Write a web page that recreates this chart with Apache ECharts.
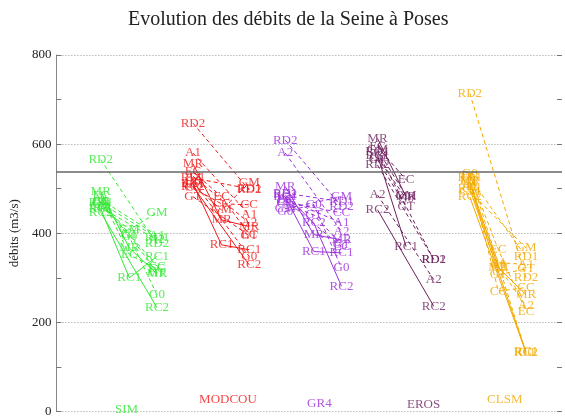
<!DOCTYPE html>
<html>
<head>
<meta charset="utf-8">
<script src="https://cdn.jsdelivr.net/npm/echarts@6/dist/echarts.min.js"></script>
<style>
  html, body { margin: 0; padding: 0; background: #fff; }
  #chart { width: 565px; height: 418px; }
</style>
</head>
<body>
<div id="chart"></div>
<script>
// modèles hydrologiques
const models = ['SIM', 'MODCOU', 'GR4', 'EROS', 'CLSM'];
const modelColors = ['#33e833', '#f01818', '#9b30d9', '#6b1f5c', '#f2a900'];

// débit de référence (ligne horizontale)
const refFlow = 537;

// SIM : présent / milieu de siècle / fin de siècle
const simNames = ['RD2', 'MR', 'EC', 'A1', 'G0', 'GT', 'RC1', 'RC2', 'GM', 'RD1', 'CC', 'A2'];
const simPre = [565, 494, 484, 476, 470, 464, 455, 447, 460, 468, 472, 458];
const simMid = [null, 367, 352, null, 392, 396, 300, null, 408, null, null, null];
const simFut = [376, 309, 320, 395, 262, 312, 348, 233, 446, 390, 326, 385];

// MODCOU
const modNames = ['RD2', 'A1', 'MR', 'EC', 'RD1', 'G0', 'CC', 'GT', 'GM', 'A2', 'RC1', 'RC2'];
const modPre = [647, 580, 556, 538, 524, 517, 502, 482, 510, 528, 512, 505];
const modMid = [null, null, 430, 482, null, null, 466, null, 452, null, 374, null];
const modFut = [497, 441, 415, 397, 500, 348, 464, 395, 513, 423, 363, 329];

// GR4
const gr4Names = ['RD2', 'A2', 'MR', 'RD1', 'RC1', 'EC', 'GT', 'G0', 'GM', 'A1', 'CC', 'RC2'];
const gr4Pre = [609, 580, 505, 490, 482, 475, 466, 449, 455, 478, 470, 486];
const gr4Mid = [null, null, 397, null, 359, null, 441, 464, null, null, null, 423];
const gr4Fut = [460, 404, 385, 471, 356, 370, 375, 322, 482, 423, 446, 281];

// EROS
const erosNames = ['MR', 'EC', 'RD1', 'G0', 'RD2', 'A2', 'RC2', 'RC1', 'GT', 'GM'];
const erosPre = [613, 594, 583, 570, 553, 486, 453, 575, 565, 588];
const erosMid = [482, 520, null, 478, null, null, null, 370, 460, 484];
const erosFut = [null, null, 341, null, 341, 296, 236, null, null, null];

// CLSM
const clsmNames = ['RD2', 'G0', 'RD1', 'MR', 'A1', 'GM', 'RC2', 'EC', 'CC', 'RC1', 'GT', 'A2'];
const clsmPre = [714, 535, 525, 518, 509, 494, 482, 530, 528, 500, 515, 505];
const clsmMid = [null, 330, null, 323, 334, null, null, 363, 270, null, 307, 325];
const clsmFut = [300, 132, 347, 262, 330, 367, 132, 225, 278, 134, 320, 237];

const modelData = [
  [simNames, simPre, simMid, simFut],
  [modNames, modPre, modMid, modFut],
  [gr4Names, gr4Pre, gr4Mid, gr4Fut],
  [erosNames, erosPre, erosMid, erosFut],
  [clsmNames, clsmPre, clsmMid, clsmFut]
];

// scénarios tracés en trait plein, les autres en tirets
const solidScenarios = ['RC1', 'RC2', 'MR'];

// position des colonnes autour du centre de chaque modèle
const colOffset = [-0.33, -0.02, 0.28];
// position des noms de modèles en bas
const groupLabelX = [0.95, 2.05, 3.04, 4.17, 5.05];
const groupLabelY = [5, 27, 18, 16, 27];

const font = 'Liberation Serif';
const chart = echarts.init(document.getElementById('chart'));

const series = [];
modelData.forEach(function (m, i) {
  const names = m[0];
  const color = modelColors[i];
  const labelPts = [];
  names.forEach(function (name, j) {
    const pts = [];
    [m[1][j], m[2][j], m[3][j]].forEach(function (v, k) {
      if (v != null) {
        pts.push([i + 1 + colOffset[k], v]);
        labelPts.push({ value: [i + 1 + colOffset[k], v], name: name });
      }
    });
    series.push({
      type: 'line',
      data: pts,
      symbol: 'none',
      silent: true,
      z: 2,
      lineStyle: {
        color: color,
        width: 1,
        type: solidScenarios.indexOf(name) >= 0 ? 'solid' : [4, 3]
      }
    });
  });
  series.push({
    type: 'scatter',
    data: labelPts,
    symbolSize: 1,
    itemStyle: { color: 'rgba(0,0,0,0)' },
    z: 3,
    label: {
      show: true,
      position: 'inside',
      formatter: '{b}',
      color: color,
      fontFamily: font,
      fontSize: 13
    }
  });
});

// noms des modèles
series.push({
  type: 'scatter',
  symbolSize: 1,
  itemStyle: { color: 'rgba(0,0,0,0)' },
  data: models.map(function (name, i) {
    return {
      value: [groupLabelX[i], groupLabelY[i]],
      name: name,
      label: { color: modelColors[i] }
    };
  }),
  label: {
    show: true,
    position: 'inside',
    formatter: '{b}',
    fontFamily: font,
    fontSize: 13
  },
  markLine: {
    silent: true,
    symbol: 'none',
    label: { show: false },
    lineStyle: { color: '#666', width: 1.5, type: 'solid' },
    data: [{ yAxis: refFlow }]
  }
});

const option = {
  animation: false,
  title: {
    text: 'Evolution des débits de la Seine à Poses',
    left: 123,
    top: 5,
    textStyle: { fontFamily: font, fontSize: 20, fontWeight: 'normal', color: '#222' }
  },
  grid: { left: 53, right: 3, top: 55, bottom: 6 },
  xAxis: {
    type: 'value',
    min: 0.19,
    max: 5.67,
    show: false
  },
  yAxis: [
    {
      type: 'value',
      min: 0,
      max: 800,
      interval: 200,
      name: 'débits (m3/s)',
      nameLocation: 'middle',
      nameGap: 32,
      nameTextStyle: { fontFamily: font, fontSize: 13, color: '#222' },
      axisLine: { show: true, lineStyle: { color: '#888' } },
      axisTick: { show: false },
      axisLabel: { fontFamily: font, fontSize: 13, color: '#222', margin: 5 },
      splitLine: { show: true, lineStyle: { color: '#999', type: [1, 2] } }
    },
    {
      type: 'value',
      min: 0,
      max: 800,
      interval: 100,
      position: 'left',
      axisLine: { show: false },
      axisTick: { show: true, inside: true, length: 5, lineStyle: { color: '#777' } },
      axisLabel: { show: false },
      splitLine: { show: false }
    },
    {
      type: 'value',
      min: 0,
      max: 800,
      interval: 100,
      position: 'right',
      axisLine: { show: false },
      axisTick: { show: true, inside: true, length: 5, lineStyle: { color: '#777' } },
      axisLabel: { show: false },
      splitLine: { show: false }
    }
  ],
  series: series
};

chart.setOption(option);
</script>
</body>
</html>
